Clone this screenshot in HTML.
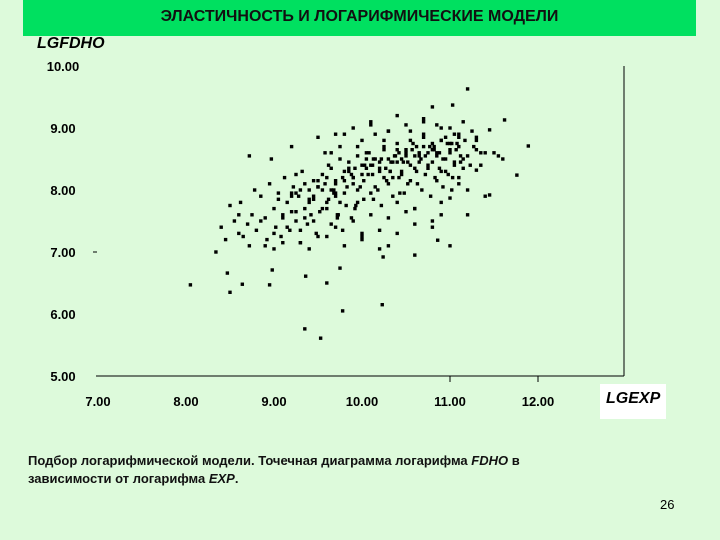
<!DOCTYPE html>
<html><head><meta charset="utf-8"><style>
html,body{margin:0;padding:0}
body{width:720px;height:540px;background:#ddfadb;position:relative;overflow:hidden;font-family:"Liberation Sans",sans-serif}
.t{position:absolute;white-space:nowrap}
</style></head><body>
<div style="position:absolute;left:23px;top:0;width:673px;height:36px;background:#00e060"></div>
<div class="t" style="left:23px;width:673px;top:8px;text-align:center;font-size:16px;font-weight:bold;color:#111">ЭЛАСТИЧНОСТЬ И ЛОГАРИФМИЧЕСКИЕ МОДЕЛИ</div>
<div class="t" style="left:37px;top:35px;font-size:16px;font-weight:bold;font-style:italic">LGFDHO</div>
<div style="position:absolute;left:600px;top:384px;width:66px;height:35px;background:#fff"></div>
<div class="t" style="left:606px;top:390px;font-size:16px;font-weight:bold;font-style:italic">LGEXP</div>
<svg id="chart" width="720" height="540" style="position:absolute;left:0;top:0"></svg>
<div class="t" style="left:28px;top:452px;font-size:13px;line-height:18px;font-weight:bold;color:#111">Подбор логарифмической модели. Точечная диаграмма логарифма <i>FDHO</i> в<br>зависимости от логарифма <i>EXP</i>.</div>
<div class="t" style="left:660px;top:497px;font-size:13px">26</div>
<script>
const xTicks=[7,8,9,10,11,12];
const yTicks=[5,6,7,8,9,10];
const xs=[8.05,8.34,8.47,8.5,8.64,8.95,8.98,9.35,9.53,9.78,10.23,9.6,9.36,10.24,9.75,11.2,10.8,11.03,11.89,11.76,11.45,11.3,11.0,11.45,11.62,10.86,
8.4,8.45,8.55,8.6,8.62,8.7,8.72,8.75,8.8,8.85,8.9,8.92,8.95,9.0,9.02,9.05,9.08,9.1,9.12,9.15,9.18,9.2,9.22,9.25,9.28,9.3,9.32,9.35,9.38,9.4,9.42,9.45,9.48,9.5,
8.5,8.6,8.65,8.78,8.85,8.9,9.0,9.05,9.1,9.15,9.2,9.25,9.3,9.35,9.4,9.45,9.5,9.55,9.6,9.62,9.65,9.68,9.7,9.72,9.75,9.78,9.8,9.82,9.85,9.88,
9.55,9.58,9.6,9.65,9.7,9.72,9.75,9.8,9.85,9.9,9.92,9.95,9.98,10.0,10.02,10.05,10.08,10.1,10.12,10.15,10.18,10.2,10.22,10.25,10.28,10.3,10.32,10.35,10.38,10.4,
9.9,9.95,10.0,10.05,10.1,10.15,10.2,10.25,10.3,10.35,10.4,10.45,10.5,10.55,10.6,10.65,10.7,10.75,10.8,10.85,10.9,10.95,11.0,11.05,11.1,11.15,11.2,11.25,11.3,11.35,
10.4,10.42,10.45,10.48,10.5,10.52,10.55,10.58,10.6,10.62,10.65,10.68,10.7,10.72,10.75,10.78,10.8,10.82,10.85,10.88,10.9,10.92,10.95,10.98,11.0,11.02,11.05,11.08,11.1,11.12,
9.2,9.3,9.4,9.5,9.6,9.7,9.8,9.9,10.0,10.1,10.2,10.3,10.4,10.5,10.6,10.7,10.8,10.9,11.0,11.1,9.25,9.45,9.65,9.85,10.05,10.25,10.45,10.65,10.85,11.05,
9.7,9.9,10.1,10.3,10.5,10.7,10.9,11.1,11.3,11.5,9.8,10.0,10.2,10.4,10.6,10.8,11.0,11.2,11.4,11.6,
9.0,9.3,9.6,9.9,10.2,10.5,10.8,11.1,9.2,9.5,9.8,10.1,10.4,10.7,11.0,11.3,10.0,10.3,10.6,10.9,
9.1,9.4,9.7,10.0,10.3,10.6,10.9,11.2,9.65,9.95,10.25,10.55,10.85,11.15,11.35,11.55,
8.72,8.97,9.25,9.5,9.7,9.88,10.03,10.13,10.27,10.37,10.47,10.57,10.67,10.77,10.88,10.97,11.07,11.17,11.27,11.4,
9.58,9.68,9.78,9.92,10.02,10.12,10.22,10.32,10.42,10.52,10.62,10.72,10.82,10.92,11.02,11.12,9.62,9.83,10.07,10.33,
9.45,9.55,9.75,9.95,10.15,10.35,10.55,10.75,10.95,11.15,9.35,9.52,9.73,9.93,10.13,10.43,10.63,10.83,11.03,11.23];
const ys=[6.47,7.0,6.66,6.35,6.48,6.47,6.71,5.76,5.61,6.05,6.15,6.5,6.61,6.92,6.74,9.63,9.34,9.37,8.71,8.24,7.92,8.32,7.87,8.97,9.13,7.19,
7.4,7.2,7.5,7.3,7.8,7.45,7.1,7.6,7.35,7.9,7.55,7.2,8.1,7.7,7.4,7.95,7.25,7.6,8.2,7.8,7.35,7.65,8.05,7.5,7.9,7.15,8.3,7.7,7.45,8.0,7.6,7.85,7.3,8.15,
7.75,7.6,7.25,8.0,7.5,7.1,7.3,7.85,7.55,7.4,7.95,7.65,7.35,8.1,7.8,7.5,7.25,8.25,7.7,8.4,7.45,8.0,7.9,7.6,8.5,7.35,8.15,7.75,8.3,7.55,
8.0,8.6,7.8,8.35,8.1,7.55,8.7,7.95,8.45,8.2,7.7,8.55,8.05,8.8,7.85,8.35,8.6,7.6,8.25,8.9,8.0,8.45,7.75,8.65,8.15,8.95,8.3,7.9,8.55,8.75,
8.2,7.8,8.4,8.6,7.95,8.5,8.3,8.7,8.1,8.45,8.65,8.25,8.55,8.8,8.35,8.6,8.9,8.4,8.75,8.55,8.3,8.85,8.6,8.45,8.7,8.35,8.55,8.95,8.65,8.4,
7.8,8.2,8.5,7.95,8.65,8.1,8.4,8.75,7.7,8.3,8.55,8.0,8.85,8.25,8.6,7.9,8.45,8.7,8.15,8.35,8.8,8.05,8.5,8.25,8.65,8.0,8.4,8.75,8.2,8.55,
7.9,8.0,7.85,8.05,8.2,7.95,8.3,8.1,8.25,8.4,8.35,8.5,8.45,8.6,8.55,8.7,8.65,8.8,8.75,8.85,8.25,8.15,8.0,8.35,8.5,8.2,8.3,8.45,8.6,8.9,
8.9,9.0,9.1,8.95,9.05,9.15,9.0,8.9,8.85,8.6,7.1,7.2,7.05,7.3,6.95,7.4,7.1,7.6,7.9,8.5,
7.05,7.15,7.25,7.5,7.35,7.65,7.5,8.1,8.7,8.85,8.9,9.05,9.2,9.1,9.0,8.8,7.25,7.1,7.45,7.6,
7.15,7.05,7.4,7.3,7.55,7.7,7.8,8.0,8.6,8.7,8.8,8.95,9.05,9.1,8.6,8.55,
8.55,8.5,7.95,8.05,8.15,8.25,8.4,8.5,8.35,8.55,8.45,8.65,8.5,8.7,8.6,8.75,8.65,8.8,8.7,8.6,
8.1,7.95,8.2,8.35,8.15,8.4,8.5,8.3,8.6,8.45,8.7,8.55,8.65,8.5,8.75,8.45,7.85,8.05,8.25,8.45,
7.9,7.7,7.8,8.0,8.05,8.2,8.15,8.35,8.3,8.5,7.55,7.65,7.6,7.75,7.85,7.95,8.1,8.2,8.2,8.4];
const svg=document.getElementById('chart');
const NS='http://www.w3.org/2000/svg';
const X=v=>98+(v-7)*88, Y=v=>376-(v-5)*62;
function mk(t,a){const e=document.createElementNS(NS,t);for(const k in a)e.setAttribute(k,a[k]);svg.appendChild(e);return e;}
let e=mk('line',{x1:96,y1:Y(5),x2:624,y2:Y(5),stroke:'#000','stroke-width':1});


e=mk('line',{x1:624,y1:66,x2:624,y2:Y(5),stroke:'#000','stroke-width':1});


[11,12].forEach(v=>{const t=mk('line',{x1:X(v),y1:Y(5),x2:X(v),y2:Y(5)+6,stroke:'#000'});

});
e=mk('line',{x1:93,y1:Y(7),x2:97,y2:Y(7),stroke:'#000'});


xTicks.forEach(v=>{const t=mk('text',{x:X(v),y:406,'text-anchor':'middle','font-size':13,'font-weight':'bold','font-family':'Liberation Sans, sans-serif'});t.textContent=v.toFixed(2);

});
yTicks.forEach(v=>{const t=mk('text',{x:63,y:Y(v)+5,'text-anchor':'middle','font-size':13,'font-weight':'bold','font-family':'Liberation Sans, sans-serif'});t.textContent=v.toFixed(2);

});
for(let i=0;i<xs.length;i++){const p=mk('rect',{x:X(xs[i])-1.7,y:Y(ys[i])-1.7,width:3.4,height:3.4,fill:'#000'});

}
</script>
</body></html>
